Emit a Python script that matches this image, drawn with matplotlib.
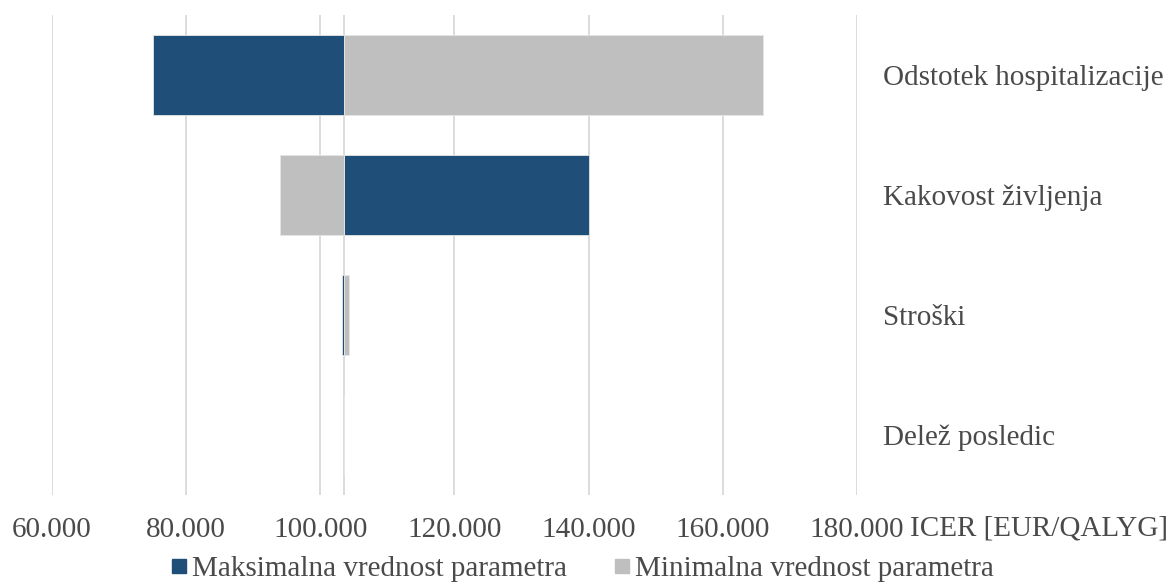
import matplotlib
matplotlib.use("Agg")
import matplotlib.pyplot as plt
from matplotlib.lines import Line2D
from matplotlib.ticker import FuncFormatter

# Tornado diagram: ICER at minimum / maximum parameter values around the base case
parameters = ["Odstotek hospitalizacije", "Kakovost življenja", "Stroški", "Delež posledic"]
base_icer = 103600
icer_max_param = [75000, 140000, 103200, 103600]
icer_min_param = [166000, 94000, 104200, 103600]
x_ticks = [60000, 80000, 100000, 120000, 140000, 160000, 180000]

blue = "#1F4E79"
grey = "#BFBFBF"
grid_col = "#D9D9D9"
text_col = "#4A4A4A"

plt.rcParams["font.family"] = ["Liberation Serif", "DejaVu Serif"]
fs = 21

fig = plt.figure(figsize=(11.68, 5.84), dpi=100)
W, H = 1168, 584
ax = fig.add_axes([52 / W, 1 - 495 / H, (857 - 52) / W, (495 - 15) / H])

ypos = list(range(len(parameters)))
for y, hi, lo in zip(ypos, icer_max_param, icer_min_param):
    ax.barh(y, hi - base_icer, left=base_icer, height=0.667, color=blue,
            edgecolor="#E6E6E6", linewidth=0.6, zorder=3)
    ax.barh(y, lo - base_icer, left=base_icer, height=0.667, color=grey,
            edgecolor="#E6E6E6", linewidth=0.6, zorder=3)

ax.set_xlim(x_ticks[0], x_ticks[-1])
ax.set_ylim(len(parameters) - 0.5, -0.5)
ax.set_xticks(x_ticks)
ax.xaxis.set_major_formatter(FuncFormatter(lambda v, p: f"{int(v):,}".replace(",", ".")))
ax.grid(axis="x", color=grid_col, linewidth=1.3, zorder=0)
ax.axvline(base_icer, color=grid_col, linewidth=1.3, zorder=1)

ax.set_yticks(ypos)
ax.set_yticklabels(parameters)
ax.yaxis.tick_right()
ax.tick_params(axis="y", length=0, pad=19, labelsize=fs, labelcolor=text_col)
ax.tick_params(axis="x", length=0, pad=15.5, labelsize=fs, labelcolor=text_col)
for s in ax.spines.values():
    s.set_visible(False)

fig.text(910 / W, 1 - 528 / H, "ICER [EUR/QALYG]", fontsize=fs, color=text_col,
         ha="left", va="center")

handles = [Line2D([], [], marker="s", linestyle="none", markersize=10.5, color=blue),
           Line2D([], [], marker="s", linestyle="none", markersize=10.5, color=grey)]
fig.legend(handles, ["Maksimalna vrednost parametra", "Minimalna vrednost parametra"],
           loc="center", bbox_to_anchor=(582 / W, 1 - 569 / H), ncol=2, frameon=False,
           fontsize=fs, handlelength=0.6, handletextpad=0.15, columnspacing=1.6,
           labelcolor=text_col, borderpad=0)

fig.savefig("out.png", dpi=100)
